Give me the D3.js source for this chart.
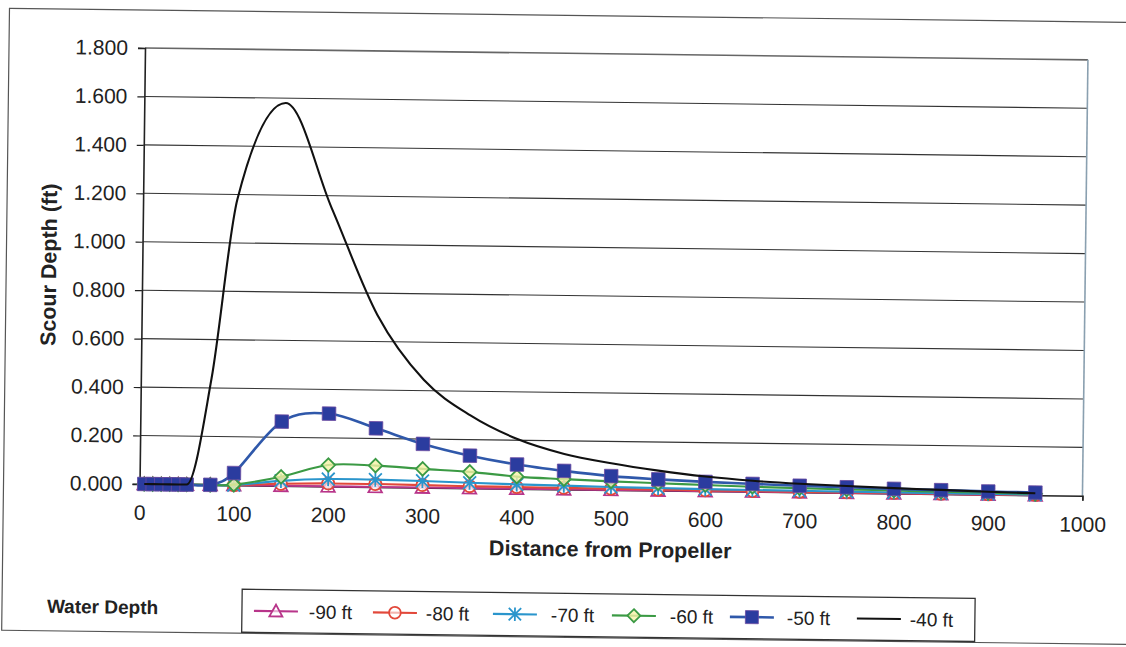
<!DOCTYPE html>
<html><head><meta charset="utf-8">
<script src="https://cdn.jsdelivr.net/npm/d3@7"></script>
<style>html,body{margin:0;padding:0;background:#fff}svg{display:block}</style>
</head><body>
<svg id="chart" width="1126" height="647"></svg>
<script>
// ---- data ----
const distances = [5,14,23,32,41,50,75,100,150,200,250,300,350,400,450,500,550,600,650,700,750,800,850,900,950];
const depth90 = [0,0,0,0,0,0,0,0,0,0,0,0,0,0,0,0,0,0,0,0,0,0,0,0,0];
const depth80 = [0,0,0,0,0,0,0,0,0.008,0.012,0.012,0.010,0.008,0.007,0.006,0.005,0.004,0.003,0.003,0.002,0.002,0.002,0.001,0.001,0.001];
const depth70 = [0,0,0,0,0,0,0,0,0.020,0.030,0.030,0.027,0.022,0.018,0.015,0.012,0.010,0.008,0.007,0.006,0.005,0.004,0.003,0.003,0.002];
const depth60 = [0,0,0,0,0,0,0,0.002,0.037,0.088,0.088,0.077,0.067,0.050,0.042,0.035,0.030,0.025,0.020,0.017,0.014,0.012,0.010,0.008,0.006];
const depth50 = [0,0,0,0,0,0,0,0.050,0.265,0.300,0.242,0.180,0.134,0.100,0.076,0.057,0.046,0.038,0.032,0.027,0.023,0.019,0.016,0.013,0.011];
const depth40 = [0,0,0,0,0,0,0.44,1.18,1.58,1.15,0.71,0.445,0.300,0.205,0.146,0.110,0.082,0.060,0.045,0.035,0.028,0.022,0.017,0.012,0.008];
const seriesNames = ["-90 ft","-80 ft","-70 ft","-60 ft","-50 ft","-40 ft"];
const yTickValues = [0,0.2,0.4,0.6,0.8,1.0,1.2,1.4,1.6,1.8];
const xTickValues = [0,100,200,300,400,500,600,700,800,900,1000];

const seriesList = [
  {name: seriesNames[0], values: depth90, color: "#b8358a", marker: "triangle"},
  {name: seriesNames[1], values: depth80, color: "#e2483a", marker: "circle"},
  {name: seriesNames[2], values: depth70, color: "#2a95cc", marker: "star"},
  {name: seriesNames[3], values: depth60, color: "#3b9a44", marker: "diamond"},
  {name: seriesNames[4], values: depth50, color: "#2f58aa", marker: "square"},
  {name: seriesNames[5], values: depth40, color: "#111111", marker: "none"}
];

// ---- layout ----
const L = 145, T = 48, W = 943, H = 436;
const svg = d3.select("#chart");
const root = svg.append("g").attr("transform", `rotate(0.72,${L},${T})`);

// outer frame
root.append("rect").attr("x", 9).attr("y", 10).attr("width", 1150).attr("height", 622)
  .attr("fill", "none").attr("stroke", "#555").attr("stroke-width", 1.2);

const x = d3.scaleLinear().domain([0, 1000]).range([L, L + W]);
const y = d3.scaleLinear().domain([0, 1.8]).range([T + H, T]);

// gridlines
root.append("g").selectAll("line").data(yTickValues.slice(1, -1)).join("line")
  .attr("x1", L).attr("x2", L + W).attr("y1", d => y(d)).attr("y2", d => y(d))
  .attr("stroke", "#333").attr("stroke-width", 1.1);
// plot border top/right
root.append("line").attr("x1", L).attr("x2", L + W).attr("y1", T).attr("y2", T).attr("stroke", "#666").attr("stroke-width", 1.6);
root.append("line").attr("x1", L + W).attr("x2", L + W).attr("y1", T).attr("y2", T + H).attr("stroke", "#8aa0b0").attr("stroke-width", 1.6);

// axes
const fontFam = "'Liberation Sans', Arial, sans-serif";
const yAxis = root.append("g").attr("transform", `translate(${L},0)`)
  .call(d3.axisLeft(y).tickValues(yTickValues).tickFormat(d3.format(".3f")).tickSize(7).tickPadding(10));
yAxis.select(".domain").attr("stroke", "#222").attr("stroke-width", 1.6);
yAxis.selectAll(".tick line").attr("stroke", "#222").attr("stroke-width", 1.2);
yAxis.selectAll("text").attr("font-family", fontFam).attr("font-size", 21).attr("fill", "#222");

const xAxis = root.append("g").attr("transform", `translate(0,${T + H})`)
  .call(d3.axisBottom(x).tickValues(xTickValues).tickFormat(d3.format("d")).tickSize(5).tickPadding(16));
xAxis.select(".domain").attr("stroke", "#222").attr("stroke-width", 1.6);
xAxis.selectAll(".tick line").attr("stroke", "#222");
xAxis.selectAll("text").attr("font-family", fontFam).attr("font-size", 21).attr("fill", "#222");

// titles
root.append("text").attr("x", L + W / 2).attr("y", 551).attr("text-anchor", "middle")
  .attr("font-family", fontFam).attr("font-weight", "bold").attr("font-size", 21.5).attr("fill", "#222")
  .text("Distance from Propeller");
root.append("text").attr("transform", `translate(59,${T + H / 2}) rotate(-90)`).attr("text-anchor", "middle")
  .attr("font-family", fontFam).attr("font-weight", "bold").attr("font-size", 21.5).attr("fill", "#222")
  .text("Scour Depth (ft)");

// markers
function drawMarker(g, type, color, size) {
  const s = size / 2;
  if (type === "triangle") {
    g.append("path").attr("d", `M0,${-s}L${s},${s * 0.8}L${-s},${s * 0.8}Z`)
      .attr("fill", "#fff").attr("fill-opacity", 0.6).attr("stroke", color).attr("stroke-width", 1.8);
  } else if (type === "circle") {
    g.append("circle").attr("r", s * 0.9).attr("fill", "#fff").attr("fill-opacity", 0.6).attr("stroke", color).attr("stroke-width", 1.8);
  } else if (type === "star") {
    const p = s * 0.95;
    g.append("path").attr("d", `M${-p},${-p}L${p},${p}M${-p},${p}L${p},${-p}M0,${-p * 1.1}L0,${p * 1.1}`)
      .attr("stroke", color).attr("stroke-width", 1.8).attr("fill", "none");
  } else if (type === "diamond") {
    g.append("path").attr("d", `M0,${-s}L${s},0L0,${s}L${-s},0Z`)
      .attr("fill", "#f6f3a8").attr("fill-opacity", 0.8).attr("stroke", color).attr("stroke-width", 1.8);
  } else if (type === "square") {
    g.append("rect").attr("x", -s).attr("y", -s).attr("width", size).attr("height", size)
      .attr("fill", "#2b3c9f").attr("stroke", "#6a4aa0").attr("stroke-width", 0.8);
  }
}

const smoothLine = d3.line().x(d => x(d[0])).y(d => y(d[1])).curve(d3.curveCardinal.tension(0));
const monoLine = d3.line().x(d => x(d[0])).y(d => y(d[1])).curve(d3.curveMonotoneX);
seriesList.forEach(s => {
  const pts = distances.map((d, i) => [d, s.values[i]]);
  const g = root.append("g");
  g.append("path").datum(pts).attr("d", s.marker === "none" ? monoLine : smoothLine).attr("fill", "none")
    .attr("stroke", s.color).attr("stroke-width", s.marker === "square" ? 2.6 : 2.1);
  if (s.marker !== "none") {
    g.selectAll("g.m").data(pts).join("g").attr("class", "m")
      .attr("transform", d => `translate(${x(d[0])},${y(d[1])})`)
      .each(function () { drawMarker(d3.select(this), s.marker, s.color, 13.5); });
  }
});

// legend
root.append("text").attr("x", 54).attr("y", 614).attr("font-family", fontFam).attr("font-weight", "bold")
  .attr("font-size", 19).attr("fill", "#222").text("Water Depth");
const legBox = {x: 249, y: 588, w: 733, h: 43};
root.append("rect").attr("x", legBox.x).attr("y", legBox.y).attr("width", legBox.w).attr("height", legBox.h)
  .attr("fill", "#fff").attr("stroke", "#333").attr("stroke-width", 1.3);
const legX = [283, 402, 522, 641, 759, 886];
const legTextX = [316, 433, 558, 677, 794, 917];
const legY = legBox.y + legBox.h / 2;
seriesList.forEach((s, i) => {
  const g = root.append("g");
  g.append("line").attr("x1", legX[i] - 22).attr("x2", legX[i] + 22).attr("y1", legY).attr("y2", legY)
    .attr("stroke", s.color).attr("stroke-width", s.marker === "square" ? 2.6 : 2.1);
  if (s.marker !== "none") {
    const mg = g.append("g").attr("transform", `translate(${legX[i]},${legY})`);
    drawMarker(mg, s.marker, s.color, 13);
  }
  g.append("text").attr("x", legTextX[i]).attr("y", legY + 7).attr("font-family", fontFam)
    .attr("font-size", 19).attr("fill", "#222").text(s.name);
});
</script>
</body></html>
